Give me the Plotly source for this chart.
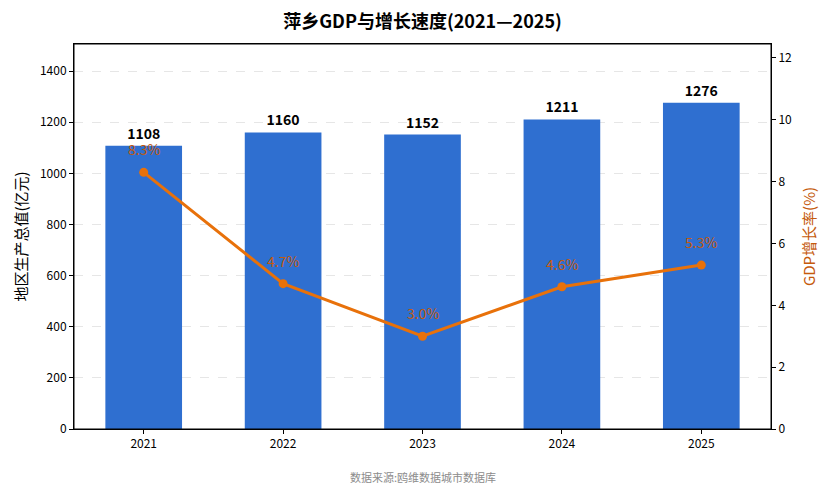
import plotly.graph_objects as go

years = ["2021", "2022", "2023", "2024", "2025"]
gdp = [1108, 1160, 1152, 1211, 1276]
growth = [8.3, 4.7, 3.0, 4.6, 5.3]
growth_labels = ["8.3%", "4.7%", "3.0%", "4.6%", "5.3%"]

FONT = "Noto Sans CJK SC"
BAR_COLOR = "#2F6FD0"
LINE_COLOR = "#E8710A"
LABEL_COLOR = "#C55A0C"

fig = go.Figure()
fig.add_trace(go.Bar(
    x=years, y=gdp, width=0.55, marker=dict(color=BAR_COLOR, line=dict(width=0)),
    text=[str(v) for v in gdp], textposition="outside",
    textfont=dict(size=14, color="black", family=FONT, weight="bold"),
    cliponaxis=False, showlegend=False,
))
fig.add_trace(go.Scatter(
    x=years, y=growth, yaxis="y2", mode="lines+markers",
    line=dict(color=LINE_COLOR, width=3), marker=dict(size=9, color=LINE_COLOR),
    cliponaxis=False, showlegend=False,
))
# percentage labels a little above each point (category index on x)
for i, (g, lab) in enumerate(zip(growth, growth_labels)):
    fig.add_annotation(x=i, y=g, xref="x", yref="y2", text=lab, showarrow=False,
                       yshift=23, font=dict(size=14, color=LABEL_COLOR, family=FONT))

fig.update_layout(
    width=829, height=494, template="plotly_white",
    margin=dict(l=66, r=66, t=36, b=73),
    font=dict(family=FONT, size=12, color="black"),
    title=dict(text="<b>萍乡GDP与增长速度(2021—2025)</b>", x=0.5, xanchor="center",
               y=0.972, yanchor="middle", font=dict(size=18, color="black")),
    xaxis=dict(type="category", range=[-0.5, 4.5], showline=True, linecolor="black",
               mirror=True, ticks="outside", ticklen=4, tickcolor="black",
               showgrid=False, automargin=False),
    yaxis=dict(range=[0, 1506], dtick=200, showline=True, linecolor="black",
               ticks="outside", ticklen=4, tickcolor="black", automargin=False,
               gridcolor="#E6E6E6", griddash="dash", zeroline=False,
               title=dict(text="地区生产总值(亿元)", font=dict(size=15), standoff=8)),
    yaxis2=dict(range=[0, 12.45], dtick=2, overlaying="y", side="right",
                showline=True, linecolor="black", ticks="outside", ticklen=4,
                tickcolor="black", showgrid=False, zeroline=False, automargin=False,
                title=dict(text="GDP增长率(%)", font=dict(size=15, color=LABEL_COLOR), standoff=13)),
)
fig.add_shape(type="rect", xref="paper", yref="paper", x0=0, x1=1, y0=0, y1=1,
              line=dict(color="black", width=1), layer="above")
fig.add_annotation(text="数据来源:鸥维数据城市数据库", xref="paper", yref="paper",
                   x=0.5, y=-0.125, yanchor="middle", showarrow=False,
                   font=dict(size=11, color="#8C8C8C"))

fig.write_html("out.html")
